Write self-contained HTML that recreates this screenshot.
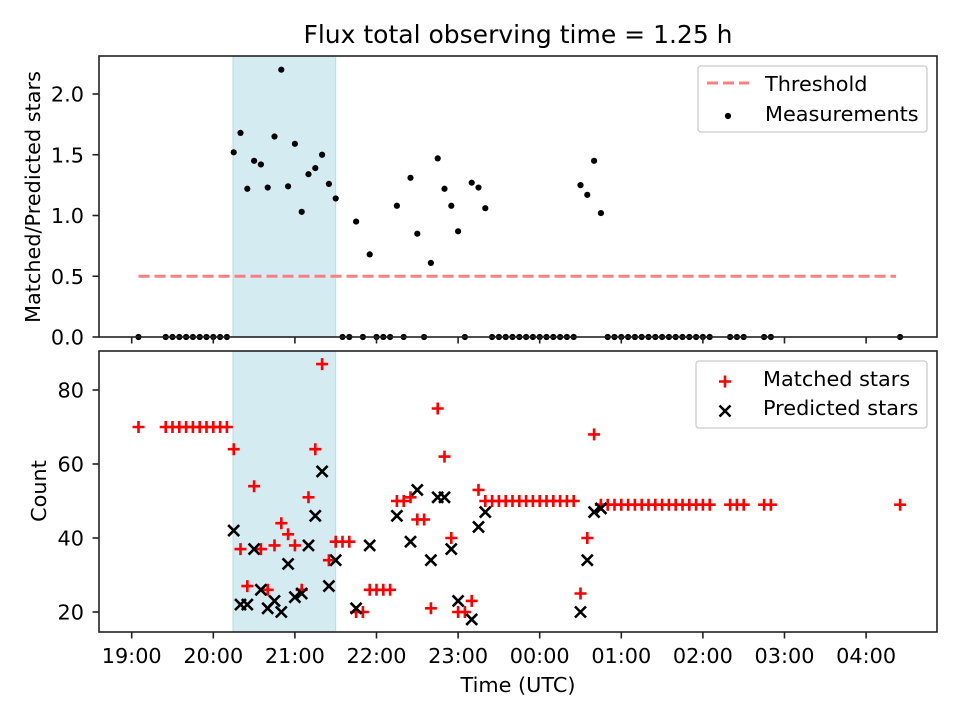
<!DOCTYPE html>
<html><head><meta charset="utf-8"><style>
html,body{margin:0;padding:0;background:#fff;}
svg{display:block;font-family:"DejaVu Sans","Liberation Sans",sans-serif;}
</style></head><body>
<svg id="chart" width="960" height="720" viewBox="0 0 960 720"></svg>
<script>
// Times are 5-minute step indices since 19:00 UTC
const ratioSteps = [1,5,6,7,8,9,10,11,12,13,14,15,16,17,18,19,20,21,22,23,24,25,26,27,28,29,30,31,32,33,34,35,36,37,38,39,40,41,42,43,44,45,46,47,48,49,50,51,52,53,54,55,56,57,58,59,60,61,62,63,64,65,66,67,68,69,70,71,72,73,74,75,76,77,78,79,80,81,82,83,84,85,88,89,90,93,94,113];
const ratioValues = [0,0,0,0,0,0,0,0,0,0,0,1.52,1.68,1.22,1.45,1.42,1.23,1.65,2.20,1.24,1.59,1.03,1.34,1.39,1.50,1.26,1.14,0,0,0.95,0,0.68,0,0,0,1.08,0,1.31,0.85,0,0.61,1.47,1.22,1.08,0.87,0,1.27,1.23,1.06,0,0,0,0,0,0,0,0,0,0,0,0,0,1.25,1.17,1.45,1.02,0,0,0,0,0,0,0,0,0,0,0,0,0,0,0,0,0,0,0,0,0,0];
const matchedSteps = [1,5,6,7,8,9,10,11,12,13,14,15,16,17,18,19,20,21,22,23,24,25,26,27,28,29,30,31,32,33,34,35,36,37,38,39,40,41,42,43,44,45,46,47,48,49,50,51,52,53,54,55,56,57,58,59,60,61,62,63,64,65,66,67,68,69,70,71,72,73,74,75,76,77,78,79,80,81,82,83,84,85,88,89,90,93,94,113];
const matchedValues = [70,70,70,70,70,70,70,70,70,70,70,64,37,27,54,37,26,38,44,41,38,26,51,64,87,34,39,39,39,20,20,26,26,26,26,50,50,51,45,45,21,75,62,40,20,20,23,53,50,50,50,50,50,50,50,50,50,50,50,50,50,50,25,40,68,49,49,49,49,49,49,49,49,49,49,49,49,49,49,49,49,49,49,49,49,49,49,49];
const predictedSteps = [15,16,17,18,19,20,21,22,23,24,25,26,27,28,29,30,33,35,39,41,42,44,45,46,47,48,50,51,52,66,67,68,69];
const predictedValues = [42,22,22,37,26,21,23,20,33,24,25,38,46,58,27,34,21,38,46,39,53,34,51,51,37,23,18,43,47,20,34,47,48];
const xTickLabels = ["19:00","20:00","21:00","22:00","23:00","00:00","01:00","02:00","03:00","04:00"];
const topYTicks = [0,0.5,1.0,1.5,2.0];
const botYTicks = [20,40,60,80];
const thresholdValue = 0.5;
const shadeStartStep = 14.9, shadeEndStep = 30.0;
const thresholdStartStep = 1, thresholdEndStep = 112.4;

const NS="http://www.w3.org/2000/svg";
const svg=document.getElementById('chart');
function el(tag,attrs,parent){const e=document.createElementNS(NS,tag);for(const k in attrs)e.setAttribute(k,attrs[k]);(parent||svg).appendChild(e);return e;}
const L=99,R=937;
const FS=20.8;
const xH=h=>131.7+81.6*h;
const xS=s=>xH(s/12);
const yTop=v=>337-121.5*v;
const yBot=c=>686-3.7*c;

function axesFrame(top,bottom,name){
  const r=el('rect',{x:L,y:top,width:R-L,height:bottom-top,fill:'none',stroke:'#222','stroke-width':1.6});
  
  
}
function shade(top,bottom,name){
  const r=el('rect',{x:xS(shadeStartStep),y:top,width:xS(shadeEndStep)-xS(shadeStartStep),height:bottom-top,fill:'#d5ebf2',stroke:'#b6dae5','stroke-width':1});
  
  
}
function xTicks(bottom,labels,grp){
  xTickLabels.forEach((t,i)=>{
    const x=xH(i);
    el('line',{x1:x,x2:x,y1:bottom,y2:bottom+6.5,stroke:'#222','stroke-width':1.6},grp);
    if(labels){const tx=el('text',{x:x,y:bottom+31,'font-size':FS,'text-anchor':'middle'},grp);tx.textContent=t;}
  });
}
function yTicks(ticks,fy,fmt,grp){
  ticks.forEach(v=>{
    const y=fy(v);
    el('line',{x1:L-6.5,x2:L,y1:y,y2:y,stroke:'#222','stroke-width':1.6},grp);
    const tx=el('text',{x:L-15,y:y+7.5,'font-size':FS,'text-anchor':'end'},grp);tx.textContent=fmt(v);
  });
}

// Title
const title=el('text',{x:518,y:43,'font-size':25,'text-anchor':'middle'});
title.textContent='Flux total observing time = 1.25 h';



// Top panel
shade(56,337,'observing-window-top');
const th=el('line',{x1:xS(thresholdStartStep),x2:xS(thresholdEndStep),y1:yTop(thresholdValue),y2:yTop(thresholdValue),stroke:'#ff7f7f','stroke-width':3,'stroke-dasharray':'11,5'});


const topG=el('g',{});


ratioSteps.forEach((s,i)=>{
  const c=el('circle',{cx:xS(s),cy:yTop(ratioValues[i]),r:3.1,fill:'#000'},topG);
  
  
});
axesFrame(56,337,'top-axes-frame');
const topTicks=el('g',{});
xTicks(337,false,topTicks);
yTicks(topYTicks,yTop,v=>v.toFixed(1),topTicks);
const yl1=el('text',{x:0,y:0,'font-size':FS,'text-anchor':'middle',transform:'translate(40,197) rotate(-90)'});
yl1.textContent='Matched/Predicted stars';



// Top legend
const lg1=el('g',{});


el('rect',{x:698,y:66,width:229,height:66,rx:3,fill:'#fff',stroke:'#ccc','stroke-width':1.3},lg1);
el('line',{x1:707,x2:749,y1:83,y2:83,stroke:'#ff7f7f','stroke-width':3,'stroke-dasharray':'11,5'},lg1);
el('circle',{cx:728,cy:116,r:3.1,fill:'#000'},lg1);
let t=el('text',{x:765,y:91,'font-size':FS},lg1);t.textContent='Threshold';
t=el('text',{x:765,y:121,'font-size':FS},lg1);t.textContent='Measurements';

// Bottom panel
shade(351,632,'observing-window-bottom');
const botG=el('g',{});


matchedSteps.forEach((s,i)=>{
  const x=xS(s),y=yBot(matchedValues[i]);
  const p=el('path',{d:`M${x-6},${y}H${x+6}M${x},${y-6}V${y+6}`,stroke:'#f00','stroke-width':2.6},botG);
  
  
});
predictedSteps.forEach((s,i)=>{
  const x=xS(s),y=yBot(predictedValues[i]);
  const p=el('path',{d:`M${x-5.5},${y-5.5}L${x+5.5},${y+5.5}M${x-5.5},${y+5.5}L${x+5.5},${y-5.5}`,stroke:'#000','stroke-width':2.6},botG);
  
  
});
axesFrame(351,632,'bottom-axes-frame');
const botTicks=el('g',{});
xTicks(632,true,botTicks);
yTicks(botYTicks,yBot,v=>String(v),botTicks);
const yl2=el('text',{x:0,y:0,'font-size':FS,'text-anchor':'middle',transform:'translate(46,491) rotate(-90)'});
yl2.textContent='Count';


const xl=el('text',{x:518,y:692,'font-size':FS,'text-anchor':'middle'});
xl.textContent='Time (UTC)';



// Bottom legend
const lg2=el('g',{});


el('rect',{x:696,y:361,width:231,height:67,rx:3,fill:'#fff',stroke:'#ccc','stroke-width':1.3},lg2);
el('path',{d:'M719,381.5H731M725,375.5V387.5',stroke:'#f00','stroke-width':2.6},lg2);
el('path',{d:'M719.5,405.5L730.5,416.5M719.5,416.5L730.5,405.5',stroke:'#000','stroke-width':2.6},lg2);
t=el('text',{x:763,y:386,'font-size':FS},lg2);t.textContent='Matched stars';
t=el('text',{x:763,y:415,'font-size':FS},lg2);t.textContent='Predicted stars';
</script>
</body></html>
